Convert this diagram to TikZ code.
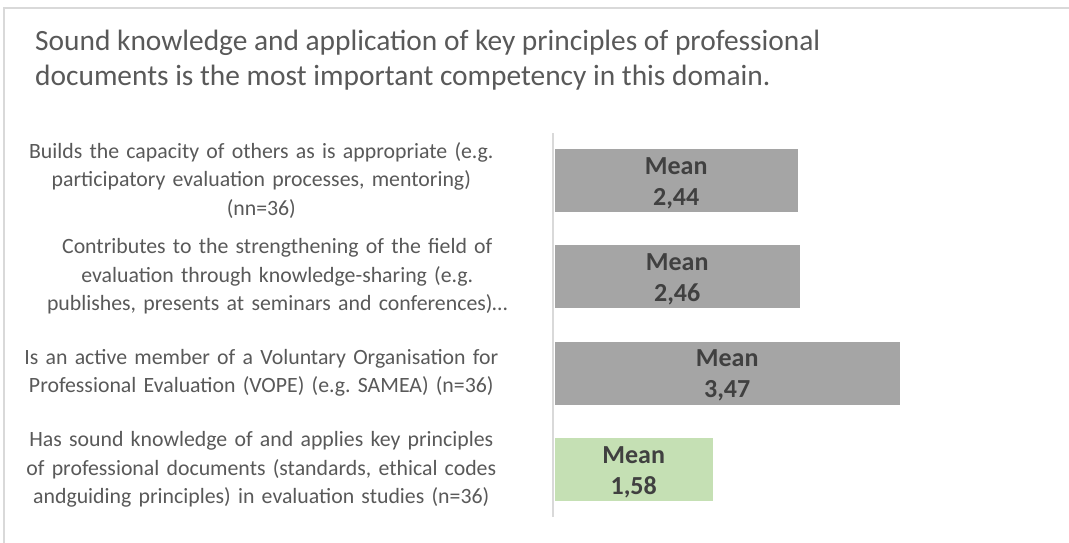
\documentclass[tikz,border=0pt]{standalone}
\usepackage{fontspec}
\setmainfont{Carlito}
\frenchspacing
\usetikzlibrary{positioning}
\definecolor{txtgray}{HTML}{595959}
\definecolor{valgray}{HTML}{404040}
\definecolor{bargray}{HTML}{A5A5A5}
\definecolor{bargreen}{HTML}{C5E0B4}
\definecolor{linegray}{HTML}{D9D9D9}
\tikzstyle{bar}=[rectangle,anchor=west,inner sep=0pt,minimum height=63pt,
fill=bargray,text=valgray,align=center,font=\fontsize{26}{31}\selectfont\bfseries]
\tikzstyle{gbar}=[bar,fill=bargreen]
\tikzstyle{cat}=[rectangle,inner sep=0pt,text width=480pt,align=center,
text=txtgray,font=\fontsize{21.8}{28.5}\selectfont]
\tikzstyle{heading}=[anchor=base west,inner sep=0pt,align=left,
text=txtgray,font=\fontsize{29.4}{35}\selectfont]
\tikzstyle{frame}=[draw=linegray,line width=2pt]
\tikzstyle{axis}=[draw=linegray,line width=1.5pt]

\begin{document}
\begin{tikzpicture}[x=1pt,y=-1pt,node distance=53pt]
            \fill[white] (0,0) rectangle (1069,543);
            \useasboundingbox (0,0) rectangle (1069,543);

            % FRAME PART

            \coordinate (fl) at (4,543);
            \coordinate (fc) at (4,8);
            \coordinate (fr) at (1069,8);
            \draw[frame] (fl) -- (fc) -- (fr);

            \node[heading] (title) at (35,85) {Sound knowledge and application of key principles of professional\\
            documents is the most important competency in this domain.};

            % BARS PART

            \node[bar, minimum width=243pt] (b1) at (554.5,180.5) {\rule{0pt}{22pt}Mean\\2,44};
            \node[bar, minimum width=245pt] (b2) at (554.5,276.5) {\rule{0pt}{22pt}Mean\\2,46};
            \node[bar, minimum width=345pt] (b3) at (554.5,373) {\rule{0pt}{22pt}Mean\\3,47};
            \node[gbar,minimum width=158pt] (b4) at (554.5,469.5) {\rule{0pt}{22pt}Mean\\1,58};

            \coordinate (axtop) at (553,133);
            \coordinate (axbot) at (553,517);
            \draw[axis] (axtop) -- (axbot);

            % LABELS PART

            \node[cat, left=of b1] (l1) {Builds the capacity of others as is appropriate (e.g.\\
            participatory evaluation processes, mentoring)\\(nn=36)};
            \node[cat, left=37pt of b2] (l2) {Contributes to the strengthening of the field of\\
            evaluation through knowledge-sharing (e.g.\\publishes, presents at seminars and conferences)\dots};
            \node[cat, left=of b3] (l3) {Is an active member of a Voluntary Organisation for\\
            Professional Evaluation (VOPE) (e.g. SAMEA) (n=36)};
            \node[cat, left=of b4] (l4) {Has sound knowledge of and applies key principles\\
            of professional documents (standards, ethical codes\\andguiding principles) in evaluation studies (n=36)};

\end{tikzpicture}
\end{document}
